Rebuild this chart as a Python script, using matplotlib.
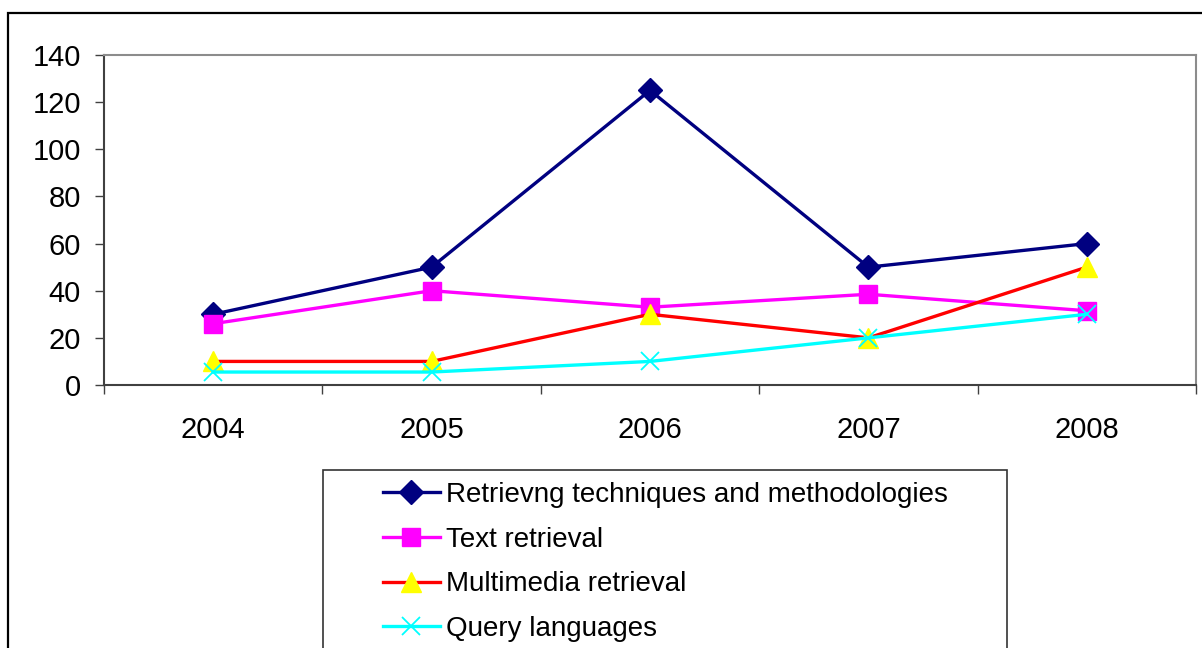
import matplotlib
matplotlib.use("Agg")
import matplotlib.pyplot as plt
from matplotlib.patches import Rectangle

plt.rcParams['font.family'] = ['Liberation Sans', 'DejaVu Sans']

years = ["2004", "2005", "2006", "2007", "2008"]
retrieving = [30, 50, 125, 50, 60]
text_retrieval = [26, 40, 33, 38.5, 31.5]
multimedia = [10, 10, 30, 20, 50]
query_lang = [5.5, 5.5, 10, 20, 30]
labels = ["Retrievng techniques and methodologies", "Text retrieval",
          "Multimedia retrieval", "Query languages"]
yticks = [0, 20, 40, 60, 80, 100, 120, 140]

W, H = 1202, 648
fig = plt.figure(figsize=(W / 100, H / 100), dpi=100)

# outer frame (left + top, extends beyond bottom/right)
fig.patches.append(Rectangle((7.5 / W, -0.2), 1.2, 1 - 13 / H + 0.2,
                             transform=fig.transFigure, fill=False,
                             edgecolor='black', linewidth=1.6, clip_on=False))

ax = fig.add_axes([104 / W, (H - 385) / H, (1196 - 104) / W, (385 - 55) / H])
x = list(range(len(years)))

styles = [
    dict(color='#000080', marker='D', markersize=12.5, markerfacecolor='#000080', markeredgecolor='#000080'),
    dict(color='#FF00FF', marker='s', markersize=13, markerfacecolor='#FF00FF', markeredgecolor='#FF00FF'),
    dict(color='#FF0000', marker='^', markersize=15, markerfacecolor='#FFFF00', markeredgecolor='#FFFF00'),
    dict(color='#00FFFF', marker='x', markersize=13, markeredgewidth=1.3, markeredgecolor='#00FFFF'),
]
series = [retrieving, text_retrieval, multimedia, query_lang]
handles = []
for vals, st, lab in zip(series, styles, labels):
    ln, = ax.plot(x, vals, linewidth=2.4, label=lab, clip_on=False, **st)
    handles.append(ln)

ax.set_xlim(-0.5, len(years) - 0.5)
ax.set_ylim(0, 140)
ax.set_yticks(yticks)
ax.set_yticklabels([str(v) for v in yticks], fontsize=21)
ax.set_xticks(x)
ax.set_xticklabels(years, fontsize=21)
ax.set_xticks([i - 0.5 for i in range(len(years) + 1)], minor=True)
ax.tick_params(axis='x', which='major', length=0, pad=22)
ax.tick_params(axis='x', which='minor', length=6.5, width=1, color='#404040', direction='out')
ax.tick_params(axis='y', which='major', length=6.5, width=1, color='#404040', direction='out', pad=10)

for s in ['left', 'bottom']:
    ax.spines[s].set_color('#404040')
    ax.spines[s].set_linewidth(1.5)
for s in ['top', 'right']:
    ax.spines[s].set_color('#8c8c8c')
    ax.spines[s].set_linewidth(1.5)

# legend frame (bottom cut off)
fig.patches.append(Rectangle((323 / W, -0.2), (1007 - 323) / W, 1 - 470 / H + 0.2,
                             transform=fig.transFigure, fill=False,
                             edgecolor='#333333', linewidth=1.2, clip_on=False))

leg = fig.legend(handles=handles, labels=labels, loc='upper left',
                 bbox_to_anchor=(383 / W, 1 - 482 / H), bbox_transform=fig.transFigure,
                 frameon=False, fontsize=20, handlelength=2.05, handletextpad=0.2,
                 labelspacing=0.67, borderpad=0, borderaxespad=0)
for h in leg.legend_handles:
    h.set_markersize(h.get_markersize() * 0.95)

fig.savefig("out.png", dpi=100)
